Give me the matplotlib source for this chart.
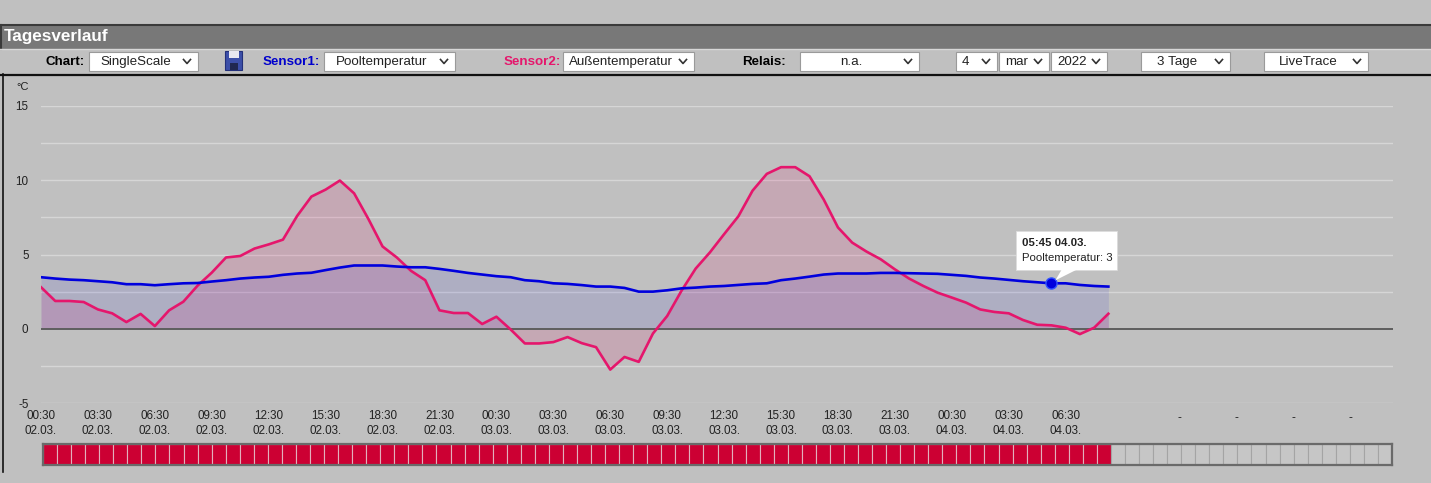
import matplotlib
matplotlib.use("Agg")
import matplotlib.pyplot as plt
import matplotlib.dates as mdates
from matplotlib.patches import Rectangle, Polygon
from matplotlib.lines import Line2D
import pandas as pd

plt.rcParams["font.family"] = ["Liberation Sans", "DejaVu Sans"]

# --- data, one value every 45 min from 02.03. 00:30
pool_temp = [
    3.47, 3.38, 3.31, 3.27, 3.2, 3.13, 3.0, 3.0, 2.93, 3.0,
    3.06, 3.08, 3.18, 3.27, 3.38, 3.45, 3.5, 3.63, 3.72, 3.77,
    3.95, 4.12, 4.26, 4.26, 4.26, 4.19, 4.14, 4.14, 4.03, 3.9,
    3.76, 3.65, 3.54, 3.47, 3.27, 3.2, 3.06, 3.02, 2.94, 2.84,
    2.84, 2.75, 2.5, 2.5, 2.59, 2.72, 2.77, 2.84, 2.88, 2.95,
    3.02, 3.06, 3.27, 3.38, 3.51, 3.65, 3.72, 3.72, 3.72, 3.76,
    3.76, 3.74, 3.72, 3.7, 3.63, 3.56, 3.45, 3.38, 3.29, 3.2,
    3.13, 3.06, 3.06, 2.95, 2.88, 2.84,
]
outside_temp = [
    2.8, 1.87, 1.87, 1.8, 1.3, 1.04, 0.45, 1.0, 0.18, 1.24,
    1.82, 2.9, 3.78, 4.8, 4.9, 5.4, 5.68, 6.0, 7.6, 8.9,
    9.37, 9.98, 9.12, 7.4, 5.54, 4.8, 3.9, 3.27, 1.24, 1.06,
    1.06, 0.32, 0.81, -0.05, -0.99, -0.99, -0.9, -0.56, -0.97, -1.24,
    -2.75, -1.9, -2.23, -0.32, 0.86, 2.55, 4.05, 5.14, 6.37, 7.57,
    9.3, 10.43, 10.88, 10.88, 10.27, 8.7, 6.82, 5.8, 5.2, 4.68,
    4.0, 3.38, 2.88, 2.43, 2.1, 1.76, 1.3, 1.13, 1.04, 0.59,
    0.27, 0.23, 0.07, -0.36, 0.07, 1.01,
]
start = "2022-03-02 00:30"
times = pd.date_range(start, periods=len(pool_temp), freq="45min")
tick_times = pd.date_range(start, periods=24, freq="3h")
tick_labels = [
    "00:30\n02.03.", "03:30\n02.03.", "06:30\n02.03.", "09:30\n02.03.",
    "12:30\n02.03.", "15:30\n02.03.", "18:30\n02.03.", "21:30\n02.03.",
    "00:30\n03.03.", "03:30\n03.03.", "06:30\n03.03.", "09:30\n03.03.",
    "12:30\n03.03.", "15:30\n03.03.", "18:30\n03.03.", "21:30\n03.03.",
    "00:30\n04.03.", "03:30\n04.03.", "06:30\n04.03.", "", "", "", "", "",
]
dash_ticks = [20, 21, 22, 23]
y_ticks = [-5, 0, 5, 10, 15]
grid_levels = [-5, -2.5, 2.5, 5, 7.5, 10, 12.5, 15]
slot_count = 96
tip_index = 71
tip_label = "05:45 04.03."

BG = "#c0c0c0"
PINK = "#e5166c"
BLUE = "#0000dd"
TXT = "#222222"
W, H = 1431, 483

fig = plt.figure(figsize=(W / 100, H / 100), dpi=100)
fig.patch.set_facecolor(BG)

# overlay in pixel coordinates for the page chrome
ov = fig.add_axes([0, 0, 1, 1], zorder=3)
ov.set_xlim(0, W)
ov.set_ylim(H, 0)
ov.axis("off")
ov.patch.set_visible(False)

# header bar
ov.add_patch(Rectangle((0, 24.5), W, 24, fc="#787878", ec="none"))
ov.add_line(Line2D([0, W], [24.5, 24.5], color="#3a3a3a", lw=1.5))
ov.add_line(Line2D([1, 1], [24.5, 48.5], color="#3a3a3a", lw=1.5))
ov.add_line(Line2D([0, W], [48.8, 48.8], color="#d8d8d8", lw=1))
ov.text(4, 37, "Tagesverlauf", color="white", fontsize=12.3, fontweight="bold",
        va="center", ha="left")

# controls row
labels = [(46, "Chart:", "black"), (263, "Sensor1:", "#0000cc"),
          (504, "Sensor2:", PINK), (742, "Relais:", "black")]
for x, s, c in labels:
    ov.text(x, 62, s, color=c, fontsize=9.6, fontweight="bold", va="center", ha="left")

boxes = [(89, 198, "SingleScale"), (324, 455, "Pooltemperatur"),
         (563, 694, "Außentemperatur"), (800, 919, "n.a."),
         (956, 997, "4"), (999, 1049, "mar"), (1051, 1107, "2022"),
         (1141, 1230, "3 Tage"), (1264, 1368, "LiveTrace")]
for x0, x1, s in boxes:
    ov.add_patch(Rectangle((x0, 51.5), x1 - x0, 19, fc="white", ec="#9a9a9a", lw=0.8))
    cx = x1 - 11
    ov.add_line(Line2D([cx - 3.5, cx, cx + 3.5], [59.5, 63.5, 59.5], color="#333333", lw=1.2))
    if x1 - x0 > 80:
        ov.text((x0 + x1 - 16) / 2, 62, s, fontsize=9.6, va="center", ha="center", color=TXT)
    else:
        ov.text(x0 + 6, 62, s, fontsize=9.6, va="center", ha="left", color=TXT)

# floppy icon
ov.add_patch(Rectangle((225, 50.5), 17, 19, fc="#3c4fa8", ec="#23307a", lw=0.8))
ov.add_patch(Rectangle((228.5, 51), 10, 7, fc="#e8e8f0", ec="none"))
ov.add_patch(Rectangle((229.5, 63), 8, 6.5, fc="#202850", ec="none"))

# chart container border
ov.add_line(Line2D([0, W], [74.5, 74.5], color="#111111", lw=1.6))
ov.add_line(Line2D([2.5, 2.5], [74, 472], color="#111111", lw=1.2))
ov.text(16, 87, "°C", fontsize=8, va="center", ha="left", color=TXT)

# --- main chart
x0_px, x1_px, ytop_px, ybot_px = 41, 1393, 106, 403
ax = fig.add_axes([x0_px / W, (H - ybot_px) / H, (x1_px - x0_px) / W,
                   (ybot_px - ytop_px) / H], zorder=2)
ax.set_facecolor("none")
for sp in ax.spines.values():
    sp.set_visible(False)
ax.set_ylim(-5, 15)
ax.set_xlim(tick_times[0], tick_times[0] + pd.Timedelta(minutes=71 * 60 + 15))

for g in grid_levels:
    ax.axhline(g, color="#d6d6d6", lw=1.0, zorder=1)
ax.axhline(0, color="#5e5e5e", lw=1.4, zorder=3)

ax.fill_between(times, outside_temp, 0, color=PINK, alpha=0.14, lw=0, zorder=2)
ax.fill_between(times, pool_temp, 0, color=BLUE, alpha=0.09, lw=0, zorder=2)
ax.plot(times, outside_temp, color=PINK, lw=1.9, zorder=4, solid_joinstyle="round")
ax.plot(times, pool_temp, color=BLUE, lw=1.9, zorder=5, solid_joinstyle="round")

ax.set_yticks(y_ticks)
ax.set_yticklabels([str(v) for v in y_ticks])
ax.set_xticks(tick_times)
ax.set_xticklabels(tick_labels, linespacing=1.35)
ax.tick_params(axis="y", length=0, pad=9, labelsize=8.4, labelcolor=TXT)
ax.tick_params(axis="x", length=0, pad=5, labelsize=8.4, labelcolor=TXT)
for i in dash_ticks:
    ax.annotate("-", (tick_times[i], -5), xytext=(0, -6.5), textcoords="offset points",
                ha="center", va="top", fontsize=8.4, color=TXT)

# tooltip
tip_t = times[tip_index]
tip_v = pool_temp[tip_index]
ax.plot([tip_t], [tip_v], "o", ms=8, color=BLUE, mec="#3355ff", mew=1, zorder=6)
px, py = ov.transData.inverted().transform(ax.transData.transform(
    (mdates.date2num(tip_t), tip_v)))
bx0, by0, bx1, by1 = 1016, 231, 1117, 270
ov.add_patch(Rectangle((bx0 + 1, by0 + 1), bx1 - bx0, by1 - by0, fc="#a8a8a8", ec="none", zorder=7))
ov.add_patch(Polygon([(1062, by1 - 1), (1078, by1 - 1), (px + 4, py - 3)], closed=True,
                     fc="white", ec="none", zorder=9))
ov.add_patch(Rectangle((bx0, by0), bx1 - bx0, by1 - by0, fc="white", ec="#dddddd", lw=0.6, zorder=8))
ov.text(bx0 + 6, 243, tip_label, fontsize=8.2, fontweight="bold", va="center", ha="left",
        color=TXT, zorder=10)
ov.text(bx0 + 6, 258, f"Pooltemperatur: {round(tip_v)}", fontsize=8.2, va="center",
        ha="left", color=TXT, zorder=10)

# --- data availability strip
bar_ax = fig.add_axes([43 / W, (H - 465) / H, (1392 - 43) / W, 21 / H], zorder=2)
slots = list(range(slot_count))
filled = [s < len(pool_temp) for s in slots]
bar_ax.bar(slots, [1] * slot_count, width=1, align="edge",
           color=["#cc0033" if f else "#c6c6c6" for f in filled],
           edgecolor=["#e2b0bc" if f else "#a4a4a4" for f in filled], lw=0.8)
bar_ax.set_xlim(0, slot_count)
bar_ax.set_ylim(0, 1)
bar_ax.set_xticks([])
bar_ax.set_yticks([])
for sp in bar_ax.spines.values():
    sp.set_color("#6a6a6a")
    sp.set_linewidth(1.6)

fig.savefig("out.png", dpi=100, facecolor=BG)
